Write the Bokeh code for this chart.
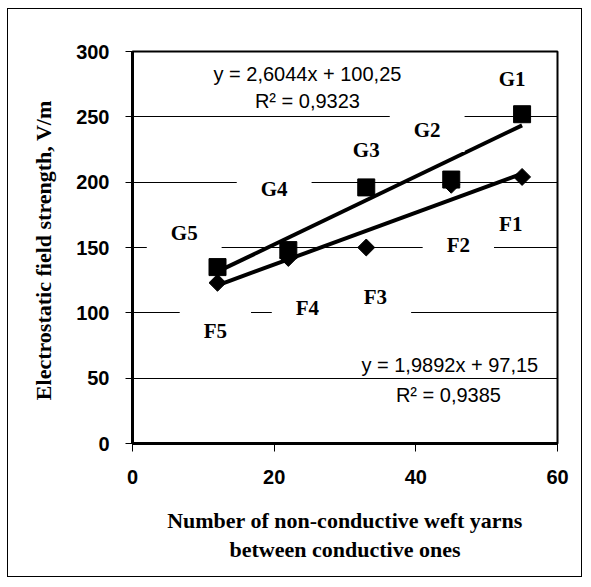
import numpy as np
from bokeh.plotting import figure
from bokeh.models import Range1d, FixedTicker, Label
from bokeh.embed import file_html
from bokeh.resources import INLINE

# ---- data ----
x_yarns = [55, 45, 33, 22, 12]
g_values = [252, 202, 196, 148, 135]
f_values = [204, 198, 150, 142, 123]
g_names = ["G1", "G2", "G3", "G4", "G5"]
f_names = ["F1", "F2", "F3", "F4", "F5"]
g_slope, g_intercept, g_r2 = 2.6044, 100.25, 0.9323
f_slope, f_intercept, f_r2 = 1.9892, 97.15, 0.9385
x_ticks = [0, 20, 40, 60]
y_ticks = [0, 50, 100, 150, 200, 250, 300]
x_title = "Number of non-conductive weft yarns\nbetween conductive ones"
y_title = "Electrostatic  field strength, V/m"

# ---- layout (label anchors in data units) ----
g_label_pos = [(53.6, 279), (41.6, 240), (33.0, 225), (20.0, 195), (7.3, 161)]
f_label_pos = [(53.4, 168), (46.0, 152), (34.3, 112), (24.7, 104), (11.7, 86)]
g_eq_pos = [(24.7, 283), (24.7, 262)]
f_eq_pos = [(44.8, 60), (44.6, 37)]

SANS = "Liberation Sans"
SERIF = "Liberation Serif"

p = figure(width=575, height=569, output_backend="svg", toolbar_location=None,
           x_range=Range1d(0, 60), y_range=Range1d(0, 300),
           min_border_left=124, min_border_right=26, min_border_top=42,
           min_border_bottom=135)
p.styles = {"border": "1px solid black", "margin-left": "7px", "margin-top": "8px"}
p.background_fill_color = "white"
p.border_fill_color = "white"
p.outline_line_color = "black"
p.outline_line_width = 2

p.xgrid.visible = False
p.ygrid.ticker = FixedTicker(ticks=y_ticks)
p.ygrid.grid_line_color = "black"
p.ygrid.grid_line_width = 1

for ax in (p.xaxis[0], p.yaxis[0]):
    ax.axis_line_width = 3
    ax.axis_line_color = "black"
    ax.major_tick_in = 0
    ax.minor_tick_line_color = None
    ax.major_label_text_font = SANS
    ax.major_label_text_font_style = "bold"
    ax.major_label_text_font_size = "20px"
    ax.major_label_text_color = "black"
    ax.axis_label_text_font = SERIF
    ax.axis_label_text_font_style = "bold"
    ax.axis_label_text_font_size = "22px"
    ax.axis_label_text_color = "black"

p.xaxis[0].ticker = FixedTicker(ticks=x_ticks)
p.yaxis[0].ticker = FixedTicker(ticks=y_ticks)
p.xaxis[0].major_tick_out = 8
p.yaxis[0].major_tick_out = 7
p.xaxis[0].major_label_standoff = 18
p.yaxis[0].major_label_standoff = 16
p.xaxis[0].axis_label = x_title
p.yaxis[0].axis_label = y_title
p.xaxis[0].axis_label_standoff = 21
p.yaxis[0].axis_label_standoff = 17
p.xaxis[0].axis_label_text_line_height = 1.18

# trend lines
xs = np.array([min(x_yarns), max(x_yarns)], dtype=float)
p.line(xs, f_slope * xs + f_intercept, line_color="black", line_width=4)
p.line(xs, g_slope * xs + g_intercept, line_color="black", line_width=4)

# markers
p.scatter(x_yarns, f_values, marker="square", angle=np.pi / 4, size=12,
          fill_color="black", line_color="black")
p.scatter(x_yarns, g_values, marker="square", size=17,
          fill_color="black", line_color="black")

# point labels
for name, (lx, ly) in list(zip(g_names, g_label_pos)) + list(zip(f_names, f_label_pos)):
    p.add_layout(Label(x=lx, y=ly, text=name, text_align="center",
                       text_baseline="middle", text_font=SERIF,
                       text_font_style="bold", text_font_size="21px",
                       text_color="black", background_fill_color="white",
                       padding=(24, 10)))

def fmt(v, nd):
    return f"{v:.{nd}f}".replace(".", ",")

for (slope, icpt, r2, pos) in [(g_slope, g_intercept, g_r2, g_eq_pos),
                               (f_slope, f_intercept, f_r2, f_eq_pos)]:
    texts = [f"y = {fmt(slope, 4)}x + {fmt(icpt, 2)}", f"R\u00b2 = {fmt(r2, 4)}"]
    for t, (ex, ey) in zip(texts, pos):
        p.add_layout(Label(x=ex, y=ey, text=t, text_align="center",
                           text_baseline="middle", text_font=SANS,
                           text_font_size="20px", text_color="black"))

open("out.html", "w").write(file_html(p, INLINE))
